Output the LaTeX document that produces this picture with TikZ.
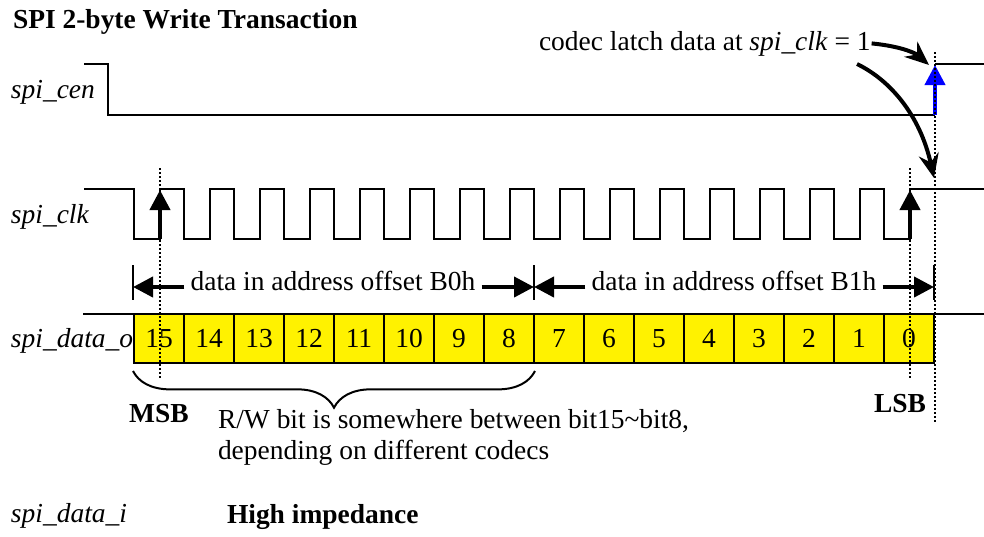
\documentclass[tikz,border=0pt]{standalone}
\usepackage{fontspec}
\setmainfont{Liberation Serif}
\usetikzlibrary{arrows.meta,decorations.pathreplacing}

\begin{document}
\begin{tikzpicture}[x=0.75pt, y=-0.75pt, line width=1.5pt,
        font=\fontsize{20.6}{31}\selectfont,
        lbl/.style={anchor=base west, inner sep=0pt},
        cell/.style={draw=black, fill=yellow, minimum width=37.5pt, minimum height=36.75pt, inner sep=0pt},
        uparrow/.style={-{Triangle[length=15pt, width=15pt]}, line width=3pt},
        guide/.style={line width=1.6pt, dash pattern=on 1.5pt off 1.5pt},
        curvearrow/.style={-{Stealth[length=18pt, width=15pt, inset=6pt]}, line width=3pt}]
    \useasboundingbox (0,0) rectangle (984,536);

    % signal names
    \node[lbl] (title) at (12,28) {\textbf{SPI 2-byte Write Transaction}};
    \node[lbl] (cen) at (10,98) {\textit{spi\_cen}};
    \node[lbl] (clk) at (10,223) {\textit{spi\_clk}};
    \node[lbl] (dout) at (10,347) {\textit{spi\_data\_o}};
    \node[lbl] (din) at (10,522) {\textit{spi\_data\_i}};
    \node[lbl] (hiz) at (226,523) {\textbf{High impedance}};

    % chip enable
    \draw (84,64) -- (108,64) -- (108,115) -- (935,115);
    \draw (935,64) -- (984,64);
    \draw[uparrow, blue] (935,115) -- (935,65);

    % clock
    \draw (84,189) -- (134,189)
        \foreach \k in {0,...,14} { -- ({134+50*\k},239) -- ({160+50*\k},239) -- ({160+50*\k},189) -- ({184+50*\k},189) }
        -- (884,239) -- (910,239) -- (910,189) -- (984,189);
    \draw[uparrow] (160,239) -- (160,190);
    \draw[uparrow] (910,239) -- (910,190);

    % byte ranges
    \coordinate (t0) at (133,287);
    \coordinate (t1) at (534,287);
    \coordinate (t2) at (934,287);
    \foreach \x in {133,534,934}
        \draw (\x,265) -- (\x,300);
    \node[anchor=mid, inner sep=4pt] (hi) at (333,287) {data in address offset B0h};
    \node[anchor=mid, inner sep=4pt] (lo) at (734,287) {data in address offset B1h};
    \draw[uparrow] (hi.mid west) -- (t0);
    \draw[uparrow] (hi.mid east) -- (t1);
    \draw[uparrow] (lo.mid west) -- (t1);
    \draw[uparrow] (lo.mid east) -- (t2);

    % data bits
    \draw (83,314) -- (984,314);
    \foreach \k in {0,...,15} {
        \pgfmathtruncatemacro\bit{15-\k}
        \node[cell] (b\bit) at ({159+50*\k},338.5) {\bit};
    }

    % sampling guides
    \draw[guide] (160,168) -- (160,378);
    \draw[guide] (910,168) -- (910,378);
    \draw[guide] (935,52) -- (935,423);

    \draw[decorate, decoration={brace, mirror, amplitude=27.5pt}] (b15.south west) ++(0,7) -- ([yshift=-5.25pt]b8.south east);
    \node[anchor=base, inner sep=0pt] (msb) at (159,422) {\textbf{MSB}};
    \node[anchor=base, inner sep=0pt] (lsb) at (900,412) {\textbf{LSB}};
    \node[lbl] (rw1) at (217,428) {R/W bit is somewhere between bit15\textasciitilde bit8,};
    \node[lbl] (rw2) at (217,459) {depending on different codecs};

    % latch note
    \node[lbl] (codec) at (538,50) {codec latch data at \textit{spi\_clk} = 1};
    \coordinate (c2) at (857,64);
    \draw[curvearrow] (codec.east) .. controls (898,46) and (914,52) .. (929,65);
    \draw[curvearrow] (c2) .. controls (890,80) and (920,115) .. (934,178);
\end{tikzpicture}
\end{document}
